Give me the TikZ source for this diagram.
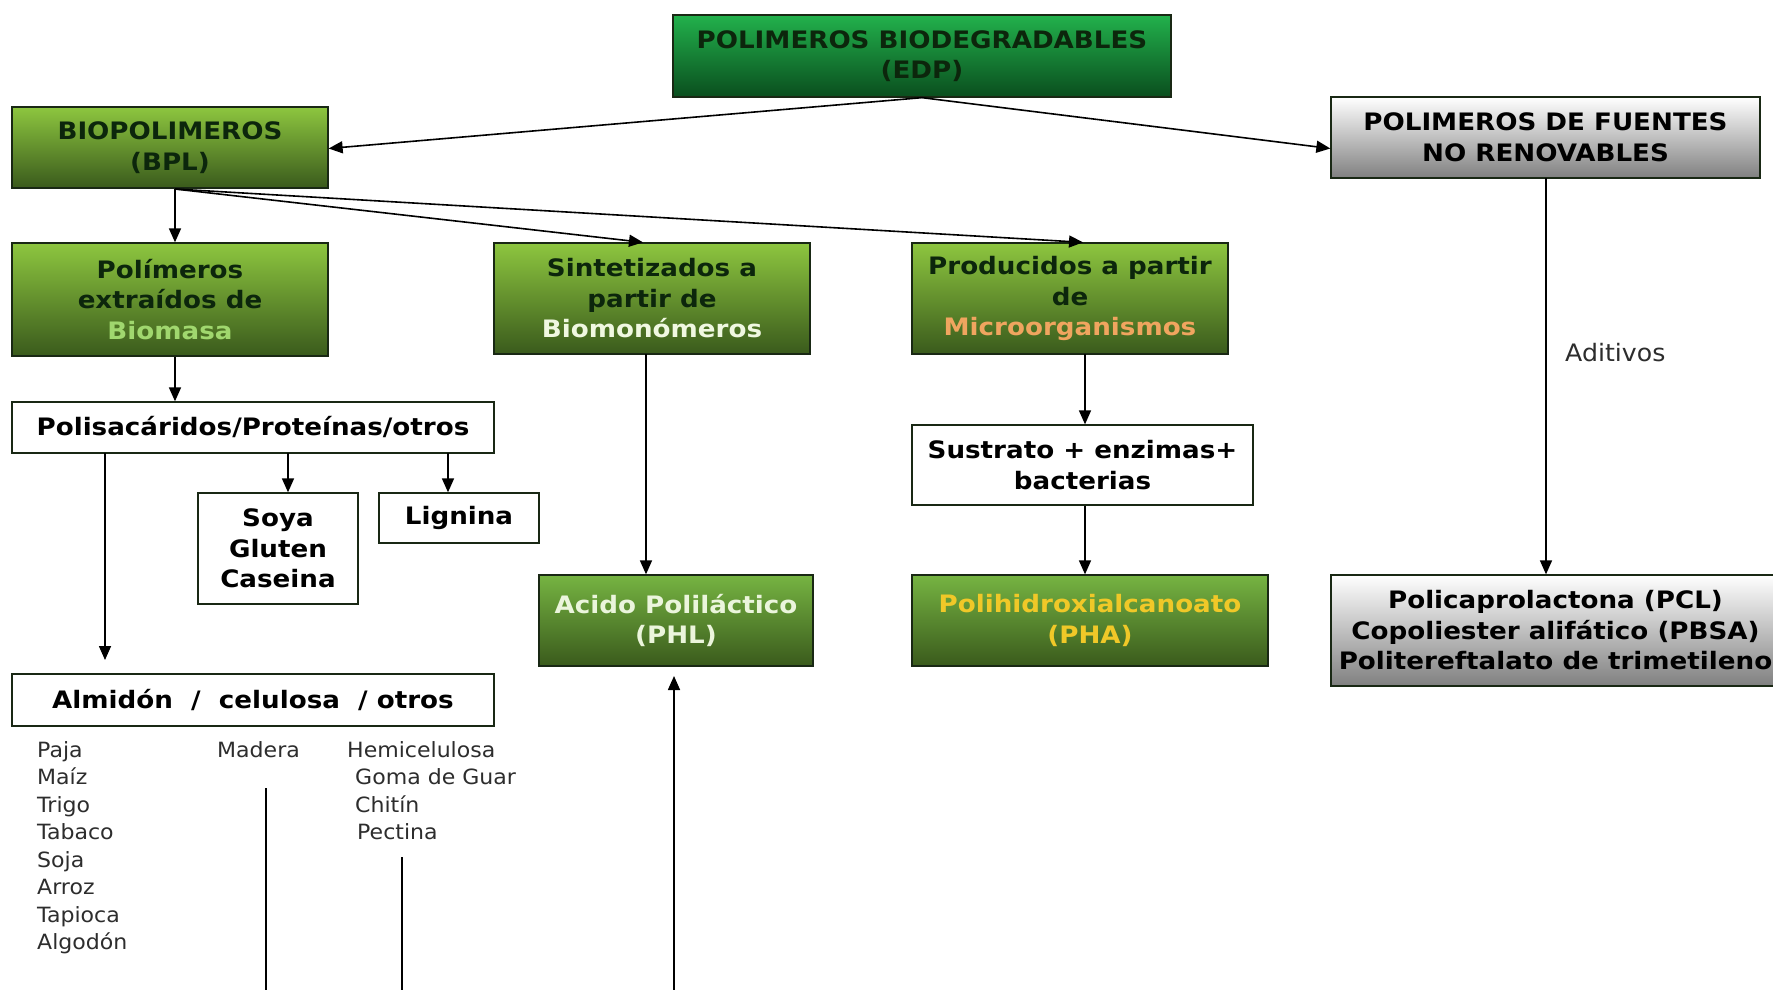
\documentclass[tikz,border=0pt]{standalone}
\usepackage{fontspec}
\setmainfont{DejaVu Sans}[FakeStretch=1.05, BoldFont={DejaVu Sans Bold}, BoldFeatures={FakeStretch=1.09}]
\usetikzlibrary{arrows.meta}
\definecolor{gtop}{RGB}{141,198,63}
\definecolor{gbot}{RGB}{58,90,28}
\definecolor{etop}{RGB}{34,177,76}
\definecolor{ebot}{RGB}{10,78,30}
\definecolor{ptop}{RGB}{118,180,66}
\definecolor{pbot}{RGB}{58,90,28}
\definecolor{graybot}{RGB}{128,128,128}
\definecolor{boxline}{RGB}{25,40,20}
\definecolor{darktxt}{RGB}{12,38,12}
\definecolor{biomasa}{RGB}{160,215,110}
\definecolor{biomono}{RGB}{240,248,225}
\definecolor{micro}{RGB}{240,165,95}
\definecolor{phltxt}{RGB}{235,245,220}
\definecolor{phatxt}{RGB}{240,200,40}
\definecolor{listtxt}{RGB}{45,45,45}
\tikzset{
  box/.style={draw=boxline, line width=1.3pt, rectangle, inner sep=0pt, align=center,
    font=\bfseries\fontsize{24}{30.5}\selectfont, text=darktxt},
  gbox/.style={box, top color=gtop, bottom color=gbot},
  ebox/.style={box, top color=etop, bottom color=ebot},
  pbox/.style={box, top color=ptop, bottom color=pbot},
  graybox/.style={box, top color=white, bottom color=graybot, text=black},
  wbox/.style={box, fill=white, text=black},
  arr/.style={line width=1.6pt, -{Triangle[length=14pt,width=12pt]}},
  ln/.style={line width=1.6pt},
  lst/.style={inner sep=0pt, anchor=base west, text=listtxt, font=\fontsize{21}{27}\selectfont},
}
\begin{document}
\begin{tikzpicture}[x=1pt,y=-1pt]
\useasboundingbox[fill=white] (0,0) rectangle (1773,990);

% boxes
\node[ebox, minimum width=498pt, minimum height=82pt] (EDP) at (922,56) {POLIMEROS BIODEGRADABLES\\(EDP)};
\node[gbox, minimum width=316pt, minimum height=81pt] (BPL) at (170,147.5) {BIOPOLIMEROS\\(BPL)};
\node[graybox, minimum width=429pt, minimum height=81pt] (NR) at (1545.5,137.5) {POLIMEROS DE FUENTES\\NO RENOVABLES};
\node[gbox, minimum width=316pt, minimum height=113pt] (PEB) at (170,299.5) {Polímeros\\extraídos de\\\textcolor{biomasa}{Biomasa}};
\node[gbox, minimum width=316pt, minimum height=111pt] (SIN) at (652,298.5) {Sintetizados a\\partir de\\\textcolor{biomono}{Biomonómeros}};
\node[gbox, minimum width=316pt, minimum height=111pt] (PRO) at (1070,298.5) {Producidos a partir\\de\\\textcolor{micro}{Microorganismos}};
\node[wbox, minimum width=482pt, minimum height=51pt] (POLI) at (253,427.5) {Polisacáridos/Proteínas/otros};
\node[wbox, minimum width=160pt, minimum height=111pt] (SOYA) at (278,548.5) {Soya\\Gluten\\Caseina};
\node[wbox, minimum width=160pt, minimum height=50pt] (LIG) at (459,518) {Lignina};
\node[wbox, minimum width=341pt, minimum height=80pt] (SUS) at (1082.5,465) {Sustrato + enzimas+\\bacterias};
\node[pbox, minimum width=274pt, minimum height=91pt, text=phltxt] (PHL) at (676,620.5) {Acido Poliláctico\\(PHL)};
\node[pbox, minimum width=356pt, minimum height=91pt, text=phatxt] (PHA) at (1090,620.5) {Polihidroxialcanoato\\(PHA)};
\node[graybox, minimum width=449pt, minimum height=111pt] (PCL) at (1555.5,630.5) {Policaprolactona (PCL)\\Copoliester alifático (PBSA)\\Politereftalato de trimetileno};
\node[wbox, minimum width=482pt, minimum height=52pt] (ALM) at (253,700) {Almidón \ / \ celulosa \ / otros};

% lists
\node[lst] (l1) at (37,757) {Paja};
\node[lst] (l2) at (37,784.5) {Maíz};
\node[lst] (l3) at (37,812) {Trigo};
\node[lst] (l4) at (37,839) {Tabaco};
\node[lst] (l5) at (37,867) {Soja};
\node[lst] (l6) at (37,894.5) {Arroz};
\node[lst] (l7) at (37,922) {Tapioca};
\node[lst] (l8) at (37,949) {Algodón};
\node[lst] (m1) at (217,757) {Madera};
\node[lst] (h1) at (347,757) {Hemicelulosa};
\node[lst] (h2) at (355,784.5) {Goma de Guar};
\node[lst] (h3) at (355,812) {Chitín};
\node[lst] (h4) at (357,839) {Pectina};
\node[inner sep=0pt, anchor=base west, text=listtxt, font=\fontsize{24}{28}\selectfont] (adit) at (1565,361) {Aditivos};

% connectors
\coordinate (b0) at (175,189);
\draw[arr] (EDP.south) -- ([yshift=-1pt]BPL.east);
\draw[arr] (EDP.south) -- ([yshift=-11pt]NR.west);
\draw[arr] (b0) -- (b0 |- PEB.north);
\draw[arr] (b0) -- ([xshift=-9pt]SIN.north);
\draw[arr] (b0) -- ([xshift=13pt]PRO.north);
\draw[arr] (PEB.south -| b0) -- (POLI.north -| b0);
\coordinate (p1) at (288,453);
\coordinate (p2) at (448,453);
\draw[arr] (p1) -- (p1 |- SOYA.north);
\draw[arr] (p2) -- (p2 |- LIG.north);
\coordinate (p0) at (105,453);
\coordinate (p0e) at (105,660);
\draw[arr] (p0) -- (p0e);
\coordinate (s1) at (646,354);
\draw[arr] (s1) -- (s1 |- PHL.north);
\coordinate (r1) at (1085,354);
\draw[arr] (r1) -- (r1 |- SUS.north);
\draw[arr] (SUS.south -| r1) -- (PHA.north -| r1);
\coordinate (n1) at (1546,178);
\draw[arr] (n1) -- (n1 |- PCL.north);
\coordinate (mt) at (266,788);
\coordinate (mb) at (266,992);
\draw[ln] (mt) -- (mb);
\coordinate (pt) at (402,857);
\coordinate (pb) at (402,992);
\draw[ln] (pt) -- (pb);
\coordinate (ab) at (674,992);
\coordinate (at) at (674,676);
\draw[arr] (ab) -- (at);
\end{tikzpicture}
\end{document}
